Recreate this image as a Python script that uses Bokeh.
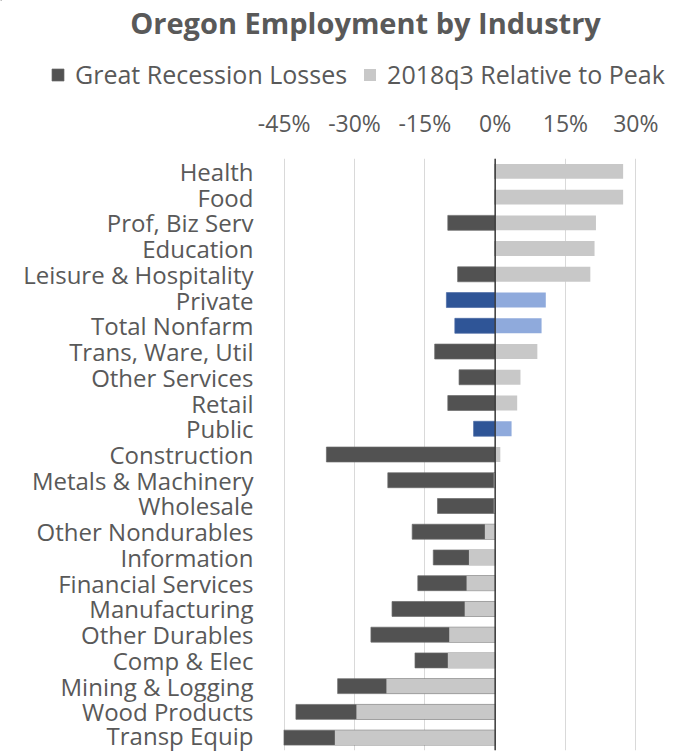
from bokeh.plotting import figure
from bokeh.layouts import column
from bokeh.models import (FactorRange, Legend, LegendItem, FixedTicker, Span, Range1d, Label)
from bokeh.embed import file_html
from bokeh.resources import INLINE

categories = ["Health", "Food", "Prof, Biz Serv", "Education", "Leisure & Hospitality",
              "Private", "Total Nonfarm", "Trans, Ware, Util", "Other Services", "Retail",
              "Public", "Construction", "Metals & Machinery", "Wholesale", "Other Nondurables",
              "Information", "Financial Services", "Manufacturing", "Other Durables",
              "Comp & Elec", "Mining & Logging", "Wood Products", "Transp Equip"]
losses = [0.0, 0.0, -10.1, 0.0, -8.0, -10.4, -8.6, -12.9, -7.7, -10.1, -4.6, -36.0,
          -22.9, -12.3, -17.7, -13.2, -16.5, -22.0, -26.5, -17.1, -33.6, -42.5, -45.1]
relative = [27.3, 27.3, 21.5, 21.2, 20.3, 10.8, 9.9, 9.0, 5.4, 4.7, 3.5, 1.1,
            -0.3, -0.3, -2.2, -5.6, -6.1, -6.5, -9.8, -10.1, -23.2, -29.6, -34.2]
highlight = ["Private", "Total Nonfarm", "Public"]
series_names = ["Great Recession Losses", "2018q3 Relative to Peak"]
ticks = [-45, -30, -15, 0, 15, 30]
tick_labels = ["-45%", "-30%", "-15%", "0%", "15%", "30%"]
title_text = "Oregon Employment by Industry"

TXT = "#595959"
DARK = "#525252"
LIGHT = "#c8c8c8"
BLUE_D = "#2f5597"
BLUE_L = "#8faadc"
FONT = "Open Sans"

W = 675
TOP_H = 100
MAIN_H = 651

# ---------- header: title + legend ----------
top = figure(width=W, height=TOP_H, output_backend="svg", toolbar_location=None,
             x_range=Range1d(0, W), y_range=Range1d(TOP_H, 0))
top.frame_align = False
top.min_border_left = top.min_border_right = top.min_border_top = top.min_border_bottom = 0
top.axis.visible = False
top.grid.visible = False
top.outline_line_color = None

top.add_layout(Label(x=365, y=22, text=title_text, text_align="center",
                     text_baseline="middle", text_font=FONT, text_font_size="29px",
                     text_font_style="bold", text_color=TXT))

d_loss = top.hbar(y=[-1000], left=0, right=1, height=1, fill_color=DARK,
                  line_color="#6a6a6a", line_width=0.7)
d_rel = top.hbar(y=[-1000], left=0, right=1, height=1, fill_color=LIGHT, line_color=None)

legend = Legend(items=[LegendItem(label=series_names[0], renderers=[d_loss]),
                       LegendItem(label=series_names[1], renderers=[d_rel])],
                orientation="horizontal", location=(50, 9))
legend.label_text_font = FONT
legend.label_text_font_size = "25px"
legend.label_text_color = TXT
legend.glyph_width = 15
legend.glyph_height = 15
legend.label_standoff = 10
legend.spacing = 15
legend.padding = 0
legend.margin = 0
legend.border_line_color = None
legend.background_fill_alpha = 0
top.add_layout(legend, "center")

# ---------- main chart ----------
p = figure(width=W, height=MAIN_H, output_backend="svg", toolbar_location=None,
           y_range=FactorRange(factors=categories[::-1], range_padding=0),
           x_range=(-45.15, 30.15), x_axis_location="above")
p.frame_align = False
p.min_border_left = 283
p.min_border_right = 39
p.min_border_bottom = 1
p.min_border_top = 58
p.outline_line_color = None
p.background_fill_color = "white"

g_idx = [i for i, c in enumerate(categories) if c not in highlight]
b_idx = [i for i, c in enumerate(categories) if c in highlight]

h = 0.58
p.hbar(y=[categories[i] for i in g_idx], left=0, right=[losses[i] for i in g_idx],
       height=h, fill_color=DARK, line_color="#6a6a6a", line_width=0.7)
p.hbar(y=[categories[i] for i in b_idx], left=0, right=[losses[i] for i in b_idx],
       height=h, fill_color=BLUE_D, line_color="#4a6aa5", line_width=0.7)
p.hbar(y=[categories[i] for i in g_idx], left=0, right=[relative[i] for i in g_idx],
       height=h, fill_color=LIGHT, line_color=None)
p.hbar(y=[categories[i] for i in b_idx], left=0, right=[relative[i] for i in b_idx],
       height=h, fill_color=BLUE_L, line_color=None)

p.add_layout(Span(location=0, dimension="height", line_color="#3a3a3a", line_width=1.5))

p.xaxis.ticker = FixedTicker(ticks=ticks)
p.xaxis.major_label_overrides = {t: l for t, l in zip(ticks, tick_labels)}
p.xaxis.axis_line_color = None
p.xaxis.major_tick_line_color = None
p.xaxis.minor_tick_line_color = None
p.xaxis.major_label_text_font = FONT
p.xaxis.major_label_text_font_size = "23px"
p.xaxis.major_label_text_color = TXT
p.xaxis.major_label_standoff = 14

p.yaxis.axis_line_color = None
p.yaxis.major_tick_line_color = None
p.yaxis.minor_tick_line_color = None
p.yaxis.major_label_text_font = FONT
p.yaxis.major_label_text_font_size = "24px"
p.yaxis.major_label_text_color = TXT
p.yaxis.major_label_standoff = 24

p.xgrid.ticker = FixedTicker(ticks=ticks)
p.xgrid.grid_line_color = "#d9d9d9"
p.xgrid.grid_line_width = 1
p.ygrid.grid_line_color = None

layout = column(top, p, spacing=0)
open("out.html", "w").write(file_html(layout, INLINE))
